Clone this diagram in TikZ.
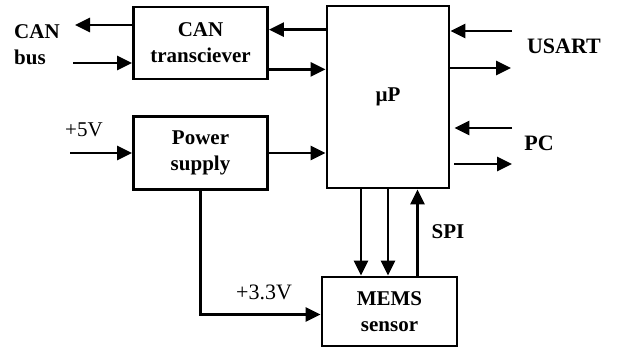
\documentclass[tikz,border=0pt]{standalone}
\usepackage{fontspec}
\setmainfont{Liberation Serif}
\usepackage{tikz}
\usetikzlibrary{positioning,arrows.meta,calc}

\begin{document}
\begin{tikzpicture}[x=1pt,y=-1pt,
  every node/.style={font=\fontsize{21}{26}\selectfont\bfseries,align=center,inner sep=0pt},
  blk/.style={draw,line width=2.8pt,minimum width=134pt,minimum height=72pt},
  arr/.style={-{Triangle[length=15pt,width=14pt]},line width=2.8pt}]
  \useasboundingbox (0,0) rectangle (617,348);
  \node[blk] (can) at (200.5,43) {CAN\\transciever};
  \node[blk,minimum height=73pt] (psu) at (200.5,153) {Power\\supply};
  \node[blk,minimum width=122pt,minimum height=182pt] (up) at (388,97) {µP};
  \node[blk,minimum width=135pt,minimum height=69pt] (mems) at (389.5,311.5) {MEMS\\sensor};
  \node[align=left,anchor=west] (canlbl) at (14,45) {CAN\\bus};
  \node (vin) at (84,130) {\mdseries +5V};
  \node (v33) at (264,292) {\mdseries\fontsize{22}{26}\selectfont +3.3V};
  \node (spi) at (448,232) {SPI};
  \node (usart) at (564,46) {\fontsize{22}{26}\selectfont USART};
  \node (pc) at (539,143) {\fontsize{22}{26}\selectfont PC};
  \coordinate (canout) at (75,25);
  \coordinate (canin) at (73,63);
  \coordinate (vsrc) at (70,153);
  \coordinate (usin) at (512,31);
  \coordinate (usout) at (511,68);
  \coordinate (pcin) at (512,128);
  \coordinate (pcout) at (512,164);
  \draw[arr] (canout -| can.west) -- (canout);
  \draw[arr] (canin) -- (canin -| can.west);
  \draw[arr] ([yshift=-25pt]up.north west) -- ([yshift=-25pt]up.north west -| can.east);
  \draw[arr] ([yshift=11pt]can.south east) -- ([yshift=11pt]can.south east -| up.west);
  \draw[arr] (vsrc) -- (vsrc -| psu.west);
  \draw[arr] (psu.east) -- (psu.east -| up.west);
  \draw[arr] (psu.south) |- ([yshift=-3pt]mems.west);
  \draw[arr] ([xshift=-27pt]up.south) -- ([xshift=-27pt]up.south |- mems.north);
  \draw[arr] (up.south) -- (up.south |- mems.north);
  \draw[arr] ([xshift=28pt]mems.north) -- ([xshift=28pt]mems.north |- up.south);
  \draw[arr] (usin) -- (usin -| up.east);
  \draw[arr] (usout -| up.east) -- (usout);
  \draw[arr] (pcin) -- ([xshift=4pt]pcin -| up.east);
  \draw[arr] ([xshift=4pt]pcout -| up.east) -- (pcout);
\end{tikzpicture}
\end{document}
